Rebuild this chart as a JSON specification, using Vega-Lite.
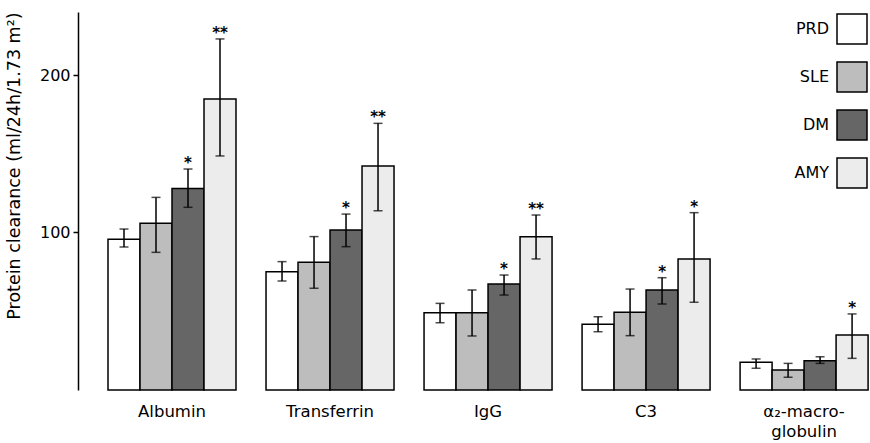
{
  "$schema": "https://vega.github.io/schema/vega-lite/v6.json",
  "width": 792,
  "height": 378,
  "autosize": {"type": "none"},
  "padding": {"left": 78, "top": 12, "right": 0, "bottom": 53},
  "background": "white",
  "config": {
    "view": {"stroke": null},
    "font": "DejaVu Sans"
  },
  "data": {
    "values": [
      {"protein": "Albumin", "group": "PRD", "value": 95.7, "lo": 90.8, "hi": 102.2, "sig": ""},
      {"protein": "Albumin", "group": "SLE", "value": 105.8, "lo": 87.4, "hi": 122.3, "sig": ""},
      {"protein": "Albumin", "group": "DM", "value": 128.0, "lo": 116.0, "hi": 140.3, "sig": "*"},
      {"protein": "Albumin", "group": "AMY", "value": 184.8, "lo": 148.6, "hi": 222.9, "sig": "**"},
      {"protein": "Transferrin", "group": "PRD", "value": 75.1, "lo": 69.2, "hi": 81.5, "sig": ""},
      {"protein": "Transferrin", "group": "SLE", "value": 81.1, "lo": 64.6, "hi": 97.4, "sig": ""},
      {"protein": "Transferrin", "group": "DM", "value": 101.6, "lo": 91.0, "hi": 111.7, "sig": "*"},
      {"protein": "Transferrin", "group": "AMY", "value": 142.2, "lo": 113.8, "hi": 169.3, "sig": "**"},
      {"protein": "IgG", "group": "PRD", "value": 49.1, "lo": 42.7, "hi": 55.0, "sig": ""},
      {"protein": "IgG", "group": "SLE", "value": 49.1, "lo": 34.3, "hi": 63.5, "sig": ""},
      {"protein": "IgG", "group": "DM", "value": 67.3, "lo": 60.3, "hi": 73.0, "sig": "*"},
      {"protein": "IgG", "group": "AMY", "value": 97.3, "lo": 83.2, "hi": 111.1, "sig": "**"},
      {"protein": "C3", "group": "PRD", "value": 41.7, "lo": 37.0, "hi": 46.5, "sig": ""},
      {"protein": "C3", "group": "SLE", "value": 49.3, "lo": 34.5, "hi": 64.1, "sig": ""},
      {"protein": "C3", "group": "DM", "value": 63.5, "lo": 54.6, "hi": 71.3, "sig": "*"},
      {"protein": "C3", "group": "AMY", "value": 83.2, "lo": 55.7, "hi": 112.6, "sig": "*"},
      {"protein": "α₂-macroglobulin", "group": "PRD", "value": 17.6, "lo": 13.8, "hi": 19.7, "sig": ""},
      {"protein": "α₂-macroglobulin", "group": "SLE", "value": 12.7, "lo": 8.1, "hi": 16.9, "sig": ""},
      {"protein": "α₂-macroglobulin", "group": "DM", "value": 18.6, "lo": 16.9, "hi": 21.1, "sig": ""},
      {"protein": "α₂-macroglobulin", "group": "AMY", "value": 34.9, "lo": 20.1, "hi": 48.3, "sig": "*"}
    ]
  },
  "encoding": {
    "x": {
      "field": "protein",
      "type": "nominal",
      "sort": ["Albumin", "Transferrin", "IgG", "C3", "α₂-macroglobulin"],
      "scale": {"type": "band", "paddingInner": 0.19, "paddingOuter": 0.101, "align": 0.94},
      "axis": {
        "title": null,
        "domain": false,
        "ticks": false,
        "labelAngle": 0,
        "labelFontSize": 16.5,
        "labelColor": "black",
        "labelPadding": 13,
        "labelLineHeight": 20,
        "labelExpr": "datum.label == 'α₂-macroglobulin' ? ['α₂-macro-', 'globulin'] : datum.label"
      }
    },
    "xOffset": {
      "field": "group",
      "type": "nominal",
      "sort": ["PRD", "SLE", "DM", "AMY"],
      "scale": {"paddingInner": 0, "paddingOuter": 0}
    }
  },
  "layer": [
    {
      "mark": {"type": "bar", "stroke": "black", "strokeWidth": 1.5},
      "encoding": {
        "y": {
          "field": "value",
          "type": "quantitative",
          "scale": {"domain": [0, 240], "nice": false},
          "axis": {
            "title": "Protein clearance (ml/24h/1.73 m²)",
            "titleFontSize": 17.5,
            "titleFontWeight": "normal",
            "titleColor": "black",
            "titleAnchor": "end",
            "titlePadding": 16,
            "values": [100, 200],
            "grid": false,
            "domainColor": "black",
            "domainWidth": 1.5,
            "tickColor": "black",
            "tickWidth": 1.5,
            "tickSize": 5,
            "labelFontSize": 16,
            "labelColor": "black",
            "labelPadding": 3
          }
        },
        "fill": {
          "field": "group",
          "type": "nominal",
          "scale": {"domain": ["PRD", "SLE", "DM", "AMY"], "range": ["#ffffff", "#bdbdbd", "#666666", "#ececec"]},
          "legend": {
            "title": null,
            "orient": "none",
            "legendX": 758,
            "legendY": 1,
            "padding": 0,
            "symbolType": "square",
            "symbolSize": 900,
            "symbolStrokeColor": "black",
            "symbolStrokeWidth": 1.5,
            "symbolOpacity": 1,
            "labelFontSize": 16,
            "labelColor": "black",
            "labelAlign": "right",
            "labelOffset": -39,
            "rowPadding": 12
          }
        }
      }
    },
    {
      "mark": {"type": "rule", "color": "black", "strokeWidth": 1.5},
      "encoding": {
        "y": {"field": "lo", "type": "quantitative"},
        "y2": {"field": "hi"}
      }
    },
    {
      "mark": {"type": "tick", "color": "black", "thickness": 1.5, "size": 9, "orient": "horizontal"},
      "encoding": {"y": {"field": "hi", "type": "quantitative"}}
    },
    {
      "mark": {"type": "tick", "color": "black", "thickness": 1.5, "size": 9, "orient": "horizontal"},
      "encoding": {"y": {"field": "lo", "type": "quantitative"}}
    },
    {
      "mark": {"type": "text", "fontSize": 15, "fontWeight": "bold", "baseline": "middle", "dy": -6, "color": "black"},
      "encoding": {
        "y": {"field": "hi", "type": "quantitative"},
        "text": {"field": "sig"}
      }
    }
  ]
}
